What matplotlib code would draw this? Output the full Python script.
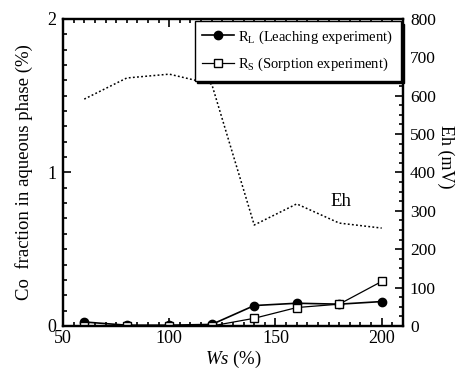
import numpy as np
import matplotlib.pyplot as plt
from matplotlib.ticker import MultipleLocator

plt.rcParams['font.family'] = ['Liberation Serif', 'DejaVu Serif']
plt.rcParams['mathtext.fontset'] = 'custom'
plt.rcParams['mathtext.rm'] = 'Liberation Serif'
plt.rcParams['mathtext.it'] = 'Liberation Serif:italic'

# data
ws = [60, 80, 100, 120, 140, 160, 180, 200]
r_leach = [0.026, 0.005, 0.005, 0.01, 0.133, 0.148, 0.142, 0.159]
r_sorp = [0.0, 0.0, 0.0, 0.0, 0.05, 0.12, 0.142, 0.29]
eh = [591, 646, 656, 630, 263, 318, 268, 255]

fig = plt.figure(figsize=(4.6, 3.7), dpi=100)
ax = fig.add_axes([0.137, 0.119, 0.739, 0.830])
ax2 = ax.twinx()

l1, = ax.plot(ws, r_leach, '-o', color='k', lw=1.2, ms=6, mfc='k', label=r'R$_{\rm L}$ (Leaching experiment)')
l2, = ax.plot(ws, r_sorp, '-s', color='k', lw=0.9, ms=5.5, mfc='white', label=r'R$_{\rm S}$ (Sorption experiment)')
ax2.plot(ws, eh, color='k', lw=1.1, ls=(0, (1.2, 1.5)))
ax2.text(181, 323, 'Eh', fontsize=13.5, ha='center', va='center')

ax.set_xlim(50, 210)
ax.set_ylim(0, 2)
ax2.set_ylim(0, 800)

ax.xaxis.set_major_locator(MultipleLocator(50))
ax.xaxis.set_minor_locator(MultipleLocator(5))
ax.yaxis.set_major_locator(MultipleLocator(1))
ax.yaxis.set_minor_locator(MultipleLocator(0.1))
ax2.yaxis.set_major_locator(MultipleLocator(100))
ax2.yaxis.set_minor_locator(MultipleLocator(25))

ax.tick_params(which='both', direction='in', top=True, right=False, labelsize=13, width=1.2)
ax.tick_params(axis='x', pad=3)
ax.tick_params(axis='y', pad=5)
ax.tick_params(which='major', length=6)
ax.tick_params(which='minor', length=3)
ax2.tick_params(which='both', direction='in', labelsize=12.5, width=1.2, pad=5)
ax2.tick_params(which='major', length=6)
ax2.tick_params(which='minor', length=3)

for a in (ax, ax2):
    for s in a.spines.values():
        s.set_linewidth(1.6)

ax.set_xlabel(r'$Ws$ (%)', fontsize=13.5, labelpad=1)
ax.set_ylabel('Co  fraction in aqueous phase (%)', fontsize=13.5, labelpad=10)
ax2.set_ylabel('Eh (mV)', fontsize=13, rotation=270, va='center')
ax2.yaxis.set_label_coords(1.125, 0.55)

leg = ax2.legend(handles=[l1, l2], loc='upper right', fontsize=10.5, fancybox=False,
                 shadow={'color': 'k', 'alpha': 1}, framealpha=1, edgecolor='k',
                 borderaxespad=0.15, handlelength=2.2, handletextpad=0.3, borderpad=0.5,
                 labelspacing=0.7)
leg.get_frame().set_linewidth(1.0)

fig.savefig('out.png', dpi=100)
